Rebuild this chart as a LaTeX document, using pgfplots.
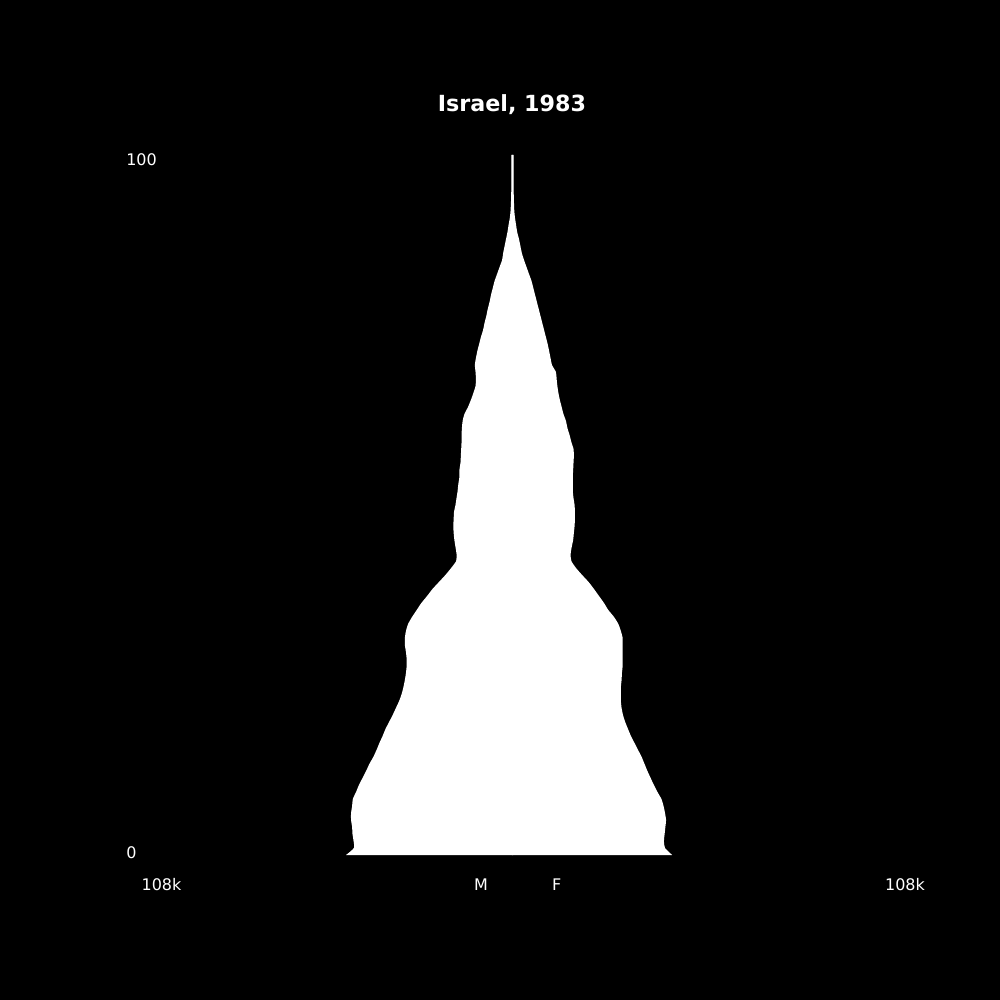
\documentclass[border=0pt]{standalone}
\usepackage{pgfplots}
\pgfplotsset{compat=1.18}
\usepackage{pgfplotstable}
\usepackage{fontspec}
\setmainfont{DejaVu Sans}
\pgfplotstableread{
age M F
0 46.4 44.5
1 44.2 42.5
2 44.3 42.2
3 44.6 42.4
4 44.7 42.6
5 45.0 42.8
6 45.0 42.5
7 44.7 42.1
8 44.5 41.5
9 43.6 40.4
10 42.8 39.4
11 41.8 38.5
12 40.8 37.6
13 39.9 36.8
14 38.8 36.0
15 37.9 35.0
16 37.1 34.0
17 36.2 33.0
18 35.4 32.2
19 34.4 31.4
20 33.4 30.8
21 32.5 30.4
22 31.6 30.2
23 30.9 30.2
24 30.4 30.2
25 30.0 30.4
26 29.7 30.5
27 29.5 30.7
28 29.5 30.7
29 29.7 30.7
30 30.0 30.7
31 30.0 30.7
32 29.7 30.2
33 29.1 29.5
34 28.0 28.3
35 26.7 26.7
36 25.4 25.5
37 23.8 24.1
38 22.3 22.7
39 20.5 21.2
40 18.7 19.4
41 17.1 17.7
42 15.7 16.4
43 15.6 16.2
44 15.9 16.5
45 16.2 16.9
46 16.4 17.1
47 16.5 17.3
48 16.4 17.4
49 16.3 17.4
50 15.9 17.3
51 15.6 17.0
52 15.3 16.8
53 15.1 16.8
54 14.8 16.8
55 14.8 16.9
56 14.5 17.0
57 14.4 17.1
58 14.3 17.0
59 14.2 16.4
60 14.2 15.9
61 14.1 15.3
62 13.9 14.9
63 13.4 14.2
64 12.4 13.7
65 11.6 13.2
66 10.9 12.8
67 10.3 12.5
68 10.2 12.3
69 10.3 12.1
70 10.5 11.0
71 10.2 10.6
72 9.8 10.2
73 9.3 9.8
74 8.8 9.3
75 8.2 8.8
76 7.8 8.3
77 7.3 7.8
78 6.9 7.3
79 6.4 6.8
80 6.0 6.3
81 5.5 5.8
82 5.0 5.3
83 4.3 4.6
84 3.6 3.9
85 2.9 3.2
86 2.6 2.6
87 2.2 2.2
88 1.8 1.8
89 1.4 1.3
90 1.1 1.0
91 0.75 0.7
92 0.55 0.5
93 0.45 0.42
94 0.38 0.36
95 0.34 0.32
96 0.32 0.30
97 0.30 0.30
98 0.30 0.30
99 0.30 0.30
100 0.30 0.30
}\pyramid
\begin{document}
\begin{tikzpicture}
\begin{axis}[
  width=720bp, height=720bp, scale only axis,
  xmin=-142.84, xmax=135.87,
  ymin=-20.714, ymax=122.143,
  axis line style={draw=none},
  ticks=none,
  axis background/.style={fill=black},
  clip=false,
]
\addplot[fill=white, draw=none, smooth, tension=0.4] table[x=F, y=age] {\pyramid} -- (axis cs:-0.2,100) -- (axis cs:-0.2,0) -- cycle;
\addplot[fill=white, draw=none, smooth, tension=0.4] table[x expr=-\thisrow{M}, y=age] {\pyramid} -- (axis cs:0.2,100) -- (axis cs:0.2,0) -- cycle;
\node[text=white, font=\bfseries\fontsize{16bp}{19bp}\selectfont] at (rel axis cs:0.512,0.895) {Israel, 1983};
\node[text=white, anchor=west, inner sep=0pt, font=\fontsize{11.5bp}{13bp}\selectfont] at (rel axis cs:0.126,0.840) {100};
\node[text=white, anchor=west, inner sep=0pt, font=\fontsize{11.5bp}{13bp}\selectfont] at (rel axis cs:0.126,0.147) {0};
\node[text=white, font=\fontsize{11.5bp}{13bp}\selectfont] at (rel axis cs:0.1615,0.115) {108k};
\node[text=white, font=\fontsize{11.5bp}{13bp}\selectfont] at (rel axis cs:0.905,0.115) {108k};
\node[text=white, font=\fontsize{11.5bp}{13bp}\selectfont] at (rel axis cs:0.481,0.115) {M};
\node[text=white, font=\fontsize{11.5bp}{13bp}\selectfont] at (rel axis cs:0.5566,0.115) {F};
\end{axis}
\end{tikzpicture}
\end{document}
